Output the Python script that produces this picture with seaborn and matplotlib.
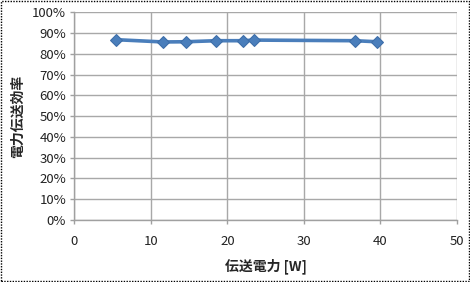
import matplotlib
matplotlib.use("Agg")
import matplotlib.pyplot as plt
import seaborn as sns
import pandas as pd
from matplotlib.patches import Rectangle
from matplotlib.ticker import PercentFormatter

power_w = [5.4, 11.6, 14.6, 18.5, 22.0, 23.5, 36.7, 39.5]
efficiency = [0.869, 0.858, 0.859, 0.864, 0.864, 0.867, 0.864, 0.859]
x_ticks = [0, 10, 20, 30, 40, 50]
y_ticks = [0, 0.1, 0.2, 0.3, 0.4, 0.5, 0.6, 0.7, 0.8, 0.9, 1.0]

sns.set_theme(style="white")
plt.rcParams['font.family'] = ['Noto Sans CJK JP', 'DejaVu Sans']

df = pd.DataFrame({"x": power_w, "y": efficiency})

fig = plt.figure(figsize=(4.7, 2.82), dpi=100)
ax = fig.add_axes([0.1585, 0.2199, 0.972 - 0.1585, 0.9557 - 0.2199])

sns.lineplot(data=df, x="x", y="y", ax=ax, color="#4a7ebb", linewidth=2.6,
             marker="D", markersize=6, markeredgecolor="#3c6da8", zorder=3)

ax.set_xlim(0, 50)
ax.set_ylim(0, 1.0)
ax.set_xticks(x_ticks)
ax.set_yticks(y_ticks)
ax.yaxis.set_major_formatter(PercentFormatter(1.0, decimals=0))
ax.grid(True, color="#a8a8a8", linewidth=1.0)
for s in ["top", "right"]:
    ax.spines[s].set_visible(False)
for s in ["left", "bottom"]:
    ax.spines[s].set_color("#a0a0a0")
    ax.spines[s].set_linewidth(1.0)
ax.tick_params(axis="both", labelsize=9.5, colors="#222222", length=3, width=1,
               direction="out", left=True, bottom=True, pad=3)
ax.tick_params(axis="x", pad=8, color="#a0a0a0")
ax.tick_params(axis="y", color="#a0a0a0")

ax.set_xlabel("伝送電力 [W]", fontsize=10, fontweight="bold", labelpad=7)
ax.set_ylabel("電力伝送効率", fontsize=10, fontweight="bold", labelpad=5)

fig.patches.append(Rectangle((0.002, 0.004), 0.995, 0.992, transform=fig.transFigure,
                             fill=False, linestyle=(0, (1, 1)), linewidth=1, edgecolor="black"))

fig.savefig("out.png", dpi=100)
